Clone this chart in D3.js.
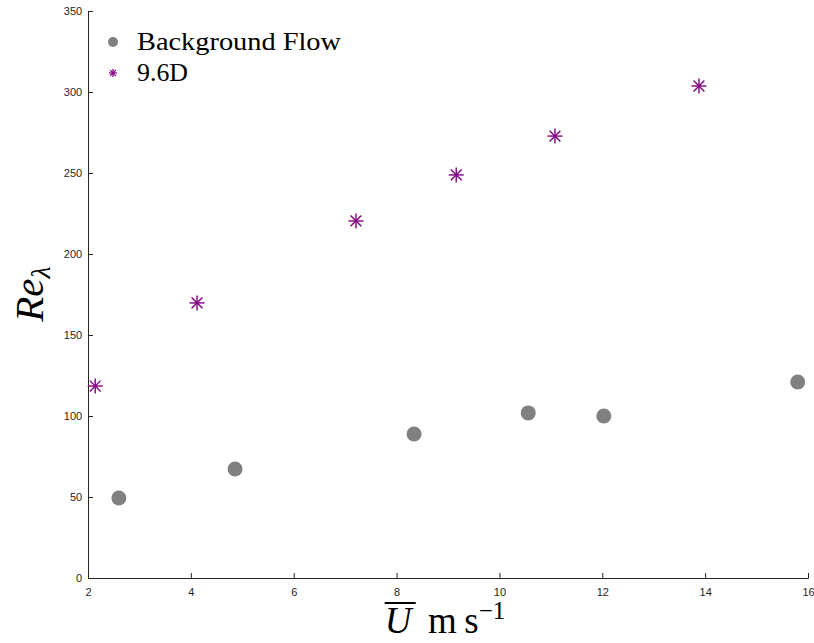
<!DOCTYPE html>
<html>
<head>
<meta charset="utf-8">
<script src="https://cdn.jsdelivr.net/npm/d3@7"></script>
<style>
  body { margin: 0; background: #fff; }
  .tick text { font-family: "Liberation Sans", Arial, sans-serif; font-size: 11px; fill: #262626; }
  .tex { font-family: "Liberation Serif", "Times New Roman", serif; fill: #000; }
</style>
</head>
<body>
<svg width="814" height="643"></svg>
<script>
(function (d3) {
  "use strict";

  // background flow
  const bgU = [2.60, 4.86, 8.34, 10.56, 12.03, 15.80];
  const bgRe = [49.4, 67.3, 88.9, 101.9, 100.0, 121.0];
  // 9.6D
  const wakeU = [2.14, 4.12, 7.21, 9.16, 11.08, 13.88];
  const wakeRe = [118.5, 169.8, 220.4, 248.8, 272.8, 303.7];

  const xTicks = [2, 4, 6, 8, 10, 12, 14, 16];
  const yTicks = [0, 50, 100, 150, 200, 250, 300, 350];
  const seriesNames = ["Background Flow", "9.6D"];
  const legendWidths = [204, 51];

  const svg = d3.select("svg");
  const margin = { top: 11, right: 6, bottom: 65, left: 88 };
  const innerWidth = +svg.attr("width") - margin.left - margin.right;
  const innerHeight = +svg.attr("height") - margin.top - margin.bottom;

  const xScale = d3.scaleLinear().domain([2, 16]).range([0, innerWidth]);
  const yScale = d3.scaleLinear().domain([0, 350]).range([innerHeight, 0]);

  const g = svg.append("g")
    .attr("transform", `translate(${margin.left},${margin.top})`);

  const xAxisG = g.append("g")
    .attr("transform", `translate(0,${innerHeight})`)
    .call(d3.axisBottom(xScale).tickValues(xTicks).tickSize(-5).tickPadding(8));
  const yAxisG = g.append("g")
    .call(d3.axisLeft(yScale).tickValues(yTicks).tickSize(-5).tickPadding(8));

  [xAxisG, yAxisG].forEach((a) => {
    a.select(".domain").attr("stroke", "#262626");
    a.selectAll(".tick line").attr("stroke", "#262626");
  });
  xAxisG.selectAll(".tick text").attr("dy", "0.9em");
  yAxisG.selectAll(".tick text").attr("dx", "0.2em");

  const purple = "#800080";
  const gray = "#808080";

  const star = (sel, r) => {
    const d = r * 0.72;
    sel.append("line").attr("x1", -r).attr("x2", r).attr("y1", 0).attr("y2", 0);
    sel.append("line").attr("x1", 0).attr("x2", 0).attr("y1", -r).attr("y2", r);
    sel.append("line").attr("x1", -d).attr("x2", d).attr("y1", -d).attr("y2", d);
    sel.append("line").attr("x1", -d).attr("x2", d).attr("y1", d).attr("y2", -d);
  };

  g.selectAll("circle.bg")
    .data(bgU.map((u, i) => ({ u, re: bgRe[i] })))
    .enter().append("circle")
    .attr("class", "bg")
    .attr("cx", (d) => xScale(d.u))
    .attr("cy", (d) => yScale(d.re))
    .attr("r", 7.5)
    .attr("fill", gray);

  g.selectAll("g.wake")
    .data(wakeU.map((u, i) => ({ u, re: wakeRe[i] })))
    .enter().append("g")
    .attr("class", "wake")
    .attr("transform", (d) => `translate(${xScale(d.u)},${yScale(d.re)})`)
    .attr("stroke", purple).attr("stroke-width", 1.4)
    .each(function () { star(d3.select(this), 7.5); });

  // legend
  const leg = svg.append("g").attr("transform", "translate(113,42)");
  leg.append("circle").attr("r", 5).attr("fill", gray);
  const ls = leg.append("g").attr("transform", "translate(0,31)")
    .attr("stroke", purple).attr("stroke-width", 1.3);
  star(ls, 4);
  leg.selectAll("text.lt")
    .data(seriesNames)
    .enter().append("text")
    .attr("class", "tex lt")
    .attr("x", 24)
    .attr("y", (d, i) => i * 31 + 8)
    .attr("font-size", 26)
    .attr("textLength", (d, i) => legendWidths[i])
    .attr("lengthAdjust", "spacingAndGlyphs")
    .text((d) => d);

  // axis labels
  const yl = svg.append("text").attr("class", "tex")
    .attr("transform", "translate(43,294) rotate(-90)")
    .attr("text-anchor", "middle")
    .attr("font-size", 41);
  yl.append("tspan").attr("font-style", "italic").text("Re");
  yl.append("tspan").attr("font-style", "italic").attr("font-size", 28).attr("dy", 7).text("λ");

  const xl = svg.append("text").attr("class", "tex")
    .attr("x", 445).attr("y", 633)
    .attr("text-anchor", "middle")
    .attr("font-size", 37);
  const uSpan = xl.append("tspan").attr("font-style", "italic").text("U");
  xl.append("tspan").text("\u2009 m\u2009s");
  xl.append("tspan").attr("font-size", 25).attr("dy", -14).text("\u22121");

  // bar over U
  const ub = uSpan.node().getBBox();
  svg.append("line")
    .attr("x1", ub.x).attr("x2", ub.x + ub.width + 2)
    .attr("y1", 603).attr("y2", 603)
    .attr("stroke", "#000").attr("stroke-width", 2);
})(d3);
</script>
</body>
</html>
